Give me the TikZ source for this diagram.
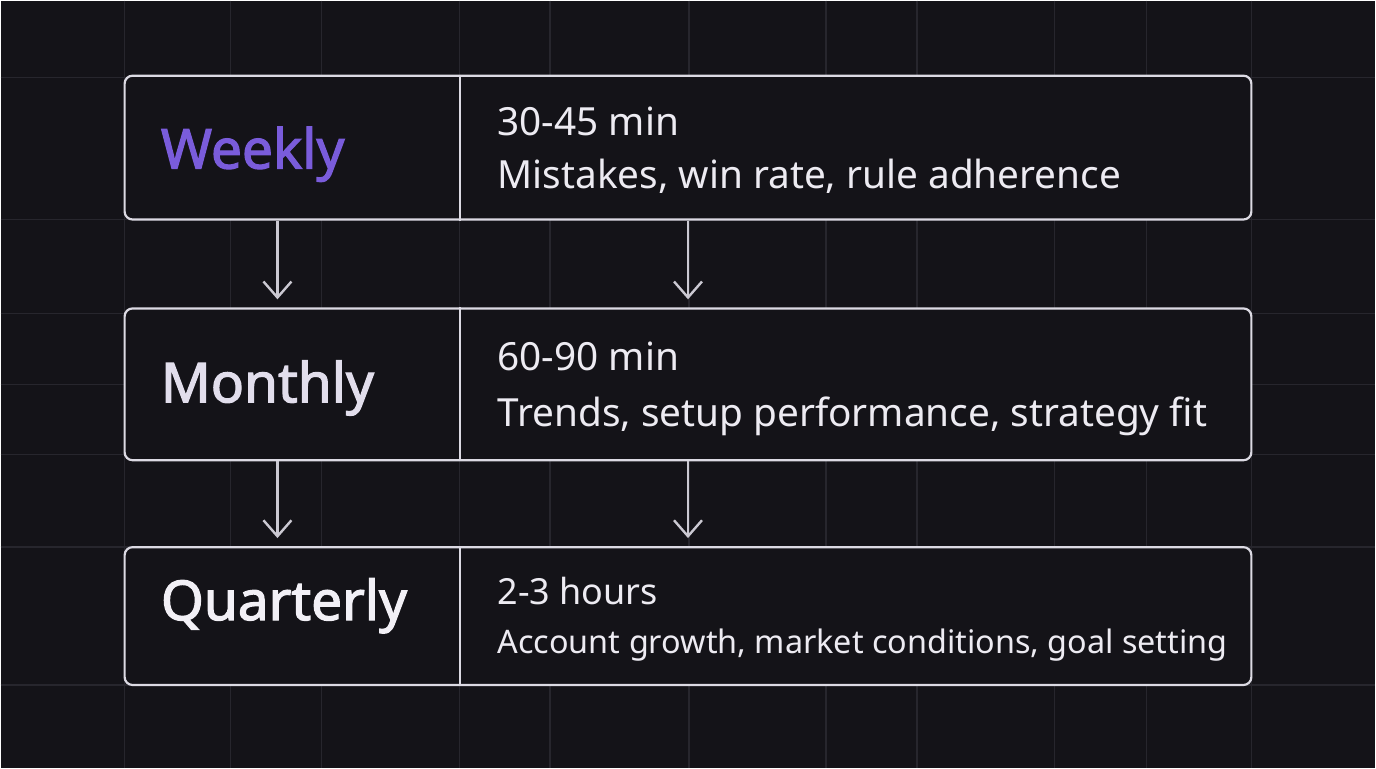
\documentclass[tikz,border=0pt]{standalone}
\usepackage{fontspec}
\setmainfont{Noto Sans}
\newfontfamily\headfont[FakeBold=2.2]{Noto Sans}
\usetikzlibrary{arrows.meta}
\usetikzlibrary{positioning}

\definecolor{bgcol}{HTML}{141318}
\definecolor{gridcol}{HTML}{27262D}
\definecolor{edgecol}{HTML}{DCDAE3}
\definecolor{arrowcol}{HTML}{CBC9D2}
\definecolor{weekcol}{HTML}{7A5CDB}
\definecolor{monthcol}{HTML}{E2DEEC}
\definecolor{quartcol}{HTML}{F2F0F6}
\definecolor{textcol}{HTML}{EDEBF2}

\tikzset{
  rowbox/.style={draw=edgecol, line width=1.1pt, rounded corners=4pt, fill=bgcol, inner sep=0pt, minimum width=564pt},
  period/.style={anchor=base west, inner sep=0pt, font=\headfont\fontsize{27.5}{30}\selectfont},
  detail/.style={anchor=base west, inner sep=0pt, text=textcol, font=\fontsize{19.4}{23}\selectfont},
  gridline/.style={draw=gridcol, line width=0.75pt},
  flow/.style={draw=arrowcol, line width=1.2pt, -{Straight Barb[length=8pt,width=14pt]}, shorten >=4pt}
}

\begin{document}
\begin{tikzpicture}[x=0.5pt, y=-0.5pt]
  \fill[bgcol] (0,0) rectangle (1376,768);
  % background grid
  \foreach \gx in {124,230,321,459,550,689,826,917,1055,1147,1252}{%
    \draw[gridline] (\gx,0) -- (\gx,768);
  }
  \foreach \gy in {77,219,313,384,454,547,685}{%
    \draw[gridline] (0,\gy) -- (1376,\gy);
  }

  \coordinate (split) at (460,0);
  \coordinate (lcol) at (277,0);
  \coordinate (rcol) at (688,0);

  % rows
  \node[rowbox, minimum height=72pt] (weekly) at (688,147) {};
  \node[rowbox, minimum height=76pt] (monthly) at (688,384) {};
  \node[rowbox, minimum height=69pt] (quarterly) at (688,616) {};
  \foreach \r in {weekly,monthly,quarterly}{%
    \draw[draw=edgecol, line width=1.1pt] (\r.north -| split) -- (\r.south -| split);
  }

  \node[period, text=weekcol] (wk-name) at (160,168) {Weekly};
  \node[detail] (wk-time) at (497,135) {30-45 min};
  \node[detail] (wk-topics) at (497,188) {Mistakes, win rate, rule adherence};

  \node[period, text=monthcol] (mo-name) at (160,402) {Monthly};
  \node[detail] (mo-time) at (497,370) {60-90 min};
  \node[detail] (mo-topics) at (497,426) {Trends, setup performance, strategy fit};

  \node[period, text=quartcol] (qu-name) at (160,620) {Quarterly};
  \node[detail, font=\fontsize{18}{22}\selectfont] (qu-time) at (497,604) {2-3 hours};
  \node[detail, font=\fontsize{16.2}{20}\selectfont] (qu-topics) at (497,653) {Account growth, market conditions, goal setting};

  % arrows
  \draw[flow] (weekly.south -| lcol) -- (monthly.north -| lcol);
  \draw[flow] (weekly.south -| rcol) -- (monthly.north -| rcol);
  \draw[flow] (monthly.south -| lcol) -- (quarterly.north -| lcol);
  \draw[flow] (monthly.south -| rcol) -- (quarterly.north -| rcol);
\end{tikzpicture}
\end{document}
